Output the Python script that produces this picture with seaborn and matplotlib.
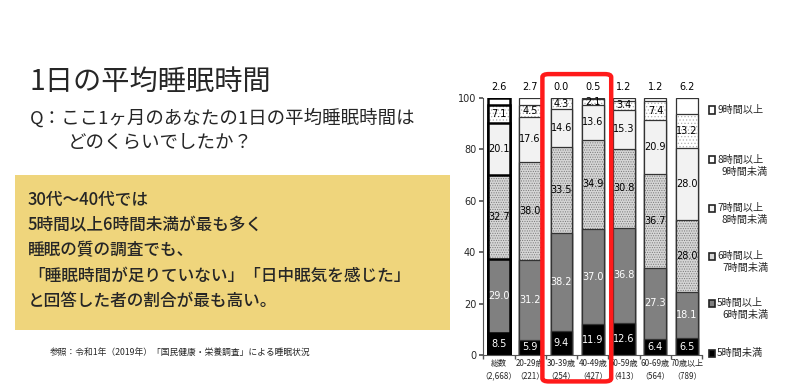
import matplotlib
matplotlib.use("Agg")
import matplotlib.pyplot as plt
from matplotlib.patches import FancyBboxPatch, Rectangle
import seaborn as sns
import numpy as np
import pandas as pd

# ---- data ----
categories = ["総数\n（2,668）", "20-29歳\n（221）", "30-39歳\n（254）", "40-49歳\n（427）",
              "50-59歳\n（413）", "60-69歳\n（564）", "70歳以上\n（789）"]
lt5 = [8.5, 5.9, 9.4, 11.9, 12.6, 6.4, 6.5]
h5_6 = [29.0, 31.2, 38.2, 37.0, 36.8, 27.3, 18.1]
h6_7 = [32.7, 38.0, 33.5, 34.9, 30.8, 36.7, 28.0]
h7_8 = [20.1, 17.6, 14.6, 13.6, 15.3, 20.9, 28.0]
h8_9 = [7.1, 4.5, 4.3, 2.1, 3.4, 7.4, 13.2]
ge9 = [2.6, 2.7, 0.0, 0.5, 1.2, 1.2, 6.2]
y_ticks = [0, 20, 40, 60, 80, 100]
legend_labels = ["9時間以上", "8時間以上\n9時間未満", "7時間以上\n8時間未満",
                 "6時間以上\n7時間未満", "5時間以上\n6時間未満", "5時間未満"]

sns.set_theme(style="white")
plt.rcParams["font.family"] = ["Noto Sans CJK JP", "DejaVu Sans"]
plt.rcParams["hatch.linewidth"] = 0.5

layers = [lt5, h5_6, h6_7, h7_8, h8_9, ge9]
styles = [  # face, hatch, hatch color, text color
    ("#000000", "", None, "white"),
    ("#808080", "", None, "white"),
    ("#d6d6d6", ".......", "#7a7a7a", "black"),
    ("#f2f2f2", "", None, "black"),
    ("#ffffff", ".....", "#b0b0b0", "black"),
    ("#ffffff", "", None, "black"),
]
cum = np.cumsum(np.array(layers), axis=0)

fig = plt.figure(figsize=(8, 3.9), dpi=100)
ax = fig.add_axes([0.604, 0.0897, 0.274, 0.659])

# draw from the top layer down so lower layers overlay
for i in range(len(layers) - 1, -1, -1):
    face, hatch, hcol, _ = styles[i]
    df = pd.DataFrame({"cat": categories, "val": cum[i]})
    if hatch:
        sns.barplot(data=df, x="cat", y="val", order=categories, color=face,
                    saturation=1, width=0.7, errorbar=None, ax=ax,
                    edgecolor=hcol, linewidth=0, hatch=hatch)
        sns.barplot(data=df, x="cat", y="val", order=categories, fill=False,
                    width=0.7, errorbar=None, ax=ax,
                    edgecolor="#333333", linewidth=0.9)
    else:
        sns.barplot(data=df, x="cat", y="val", order=categories, color=face,
                    saturation=1, width=0.7, errorbar=None, ax=ax,
                    edgecolor="#333333", linewidth=0.9)

# thicker outline for the total bar
for cont in ax.containers:
    p = cont.patches[0]
    if p.get_linewidth() > 0:
        p.set_edgecolor("black")
        p.set_linewidth(1.8)

# segment labels
for i in range(5):
    txtc = styles[i][3]
    for j in range(len(categories)):
        v = layers[i][j]
        base = cum[i - 1][j] if i > 0 else 0
        ax.text(j, base + v / 2, f"{v:.1f}", ha="center", va="center",
                fontsize=7, color=txtc, family=["DejaVu Sans"])
for j in range(len(categories)):
    ax.text(j, 102.5, f"{ge9[j]:.1f}", ha="center", va="bottom", fontsize=7,
            color="black", family=["DejaVu Sans"])

ax.set_ylim(0, 100)
ax.set_xlim(-0.48, len(categories) - 0.52)
ax.set_yticks(y_ticks)
ax.set_yticklabels([str(t) for t in y_ticks], fontsize=7, family=["DejaVu Sans"])
ax.set_xticks(range(len(categories)))
ax.set_xticklabels(categories, fontsize=5.8, linespacing=1.5)
ax.set_xticks(np.arange(-0.5, len(categories), 1), minor=True)
ax.tick_params(axis="x", which="major", length=0, pad=3)
ax.tick_params(axis="x", which="minor", length=3, color="#555555", direction="out", bottom=True)
ax.tick_params(axis="y", length=3, color="#555555", direction="out", left=True, pad=2)
ax.set_xlabel("")
ax.set_ylabel("")
for s in ["top", "right"]:
    ax.spines[s].set_visible(False)
for s in ["left", "bottom"]:
    ax.spines[s].set_color("#555555")
    ax.spines[s].set_linewidth(0.8)

# red highlight box
fig.patches.append(FancyBboxPatch((0.678, 0.022), 0.086, 0.788,
                                  boxstyle="round,pad=0,rounding_size=0.008",
                                  transform=fig.transFigure, fill=False,
                                  edgecolor="#ff1a1a", linewidth=3.2, zorder=10))

# legend
leg_y = [110, 160, 208, 256, 303, 353]
leg_face = ["#ffffff", "#ffffff", "#f2f2f2", "#d6d6d6", "#808080", "#000000"]
for k, lab in enumerate(legend_labels):
    y = 1 - leg_y[k] / 390
    fig.patches.append(Rectangle((709 / 800, y - 3.5 / 390), 6 / 800, 7 / 390,
                                 transform=fig.transFigure, facecolor=leg_face[k],
                                 edgecolor="#222222", linewidth=1.2))
    if "\n" in lab:
        l1, l2 = lab.split("\n")
        fig.text(717 / 800, y, l1, fontsize=7.3, va="center", ha="left")
        fig.text(722 / 800, y - 12 / 390, l2, fontsize=7.3, va="center", ha="left")
    else:
        fig.text(717 / 800, y, lab, fontsize=7.3, va="center", ha="left")

# titles and comment box
fig.text(30 / 800, 1 - 82 / 390, "1日の平均睡眠時間", fontsize=20.3, va="center",
         ha="left")
fig.text(30 / 800, 1 - 118 / 390, "Q：ここ1ヶ月のあなたの1日の平均睡眠時間は",
         fontsize=13.3, va="center", ha="left")
fig.text(68 / 800, 1 - 143 / 390, "どのくらいでしたか？", fontsize=13.3, va="center",
         ha="left")

fig.patches.append(Rectangle((15 / 800, 1 - 330 / 390), 435 / 800, 155 / 390,
                             transform=fig.transFigure, facecolor="#efd57c",
                             edgecolor="none", zorder=0))
box_lines = ["30代～40代では", "5時間以上6時間未満が最も多く", "睡眠の質の調査でも、",
             "「睡眠時間が足りていない」「日中眠気を感じた」", "と回答した者の割合が最も高い。"]
box_y = [200, 225, 250, 276, 301]
for t, yy in zip(box_lines, box_y):
    fig.text(28 / 800, 1 - yy / 390, t, fontsize=12, va="center", ha="left",
             fontweight="medium")

fig.text(50 / 800, 1 - 352 / 390, "参照：令和1年（2019年）「国民健康・栄養調査」による睡眠状況",
         fontsize=6.3, va="center", ha="left")

fig.savefig("out.png", dpi=100)
